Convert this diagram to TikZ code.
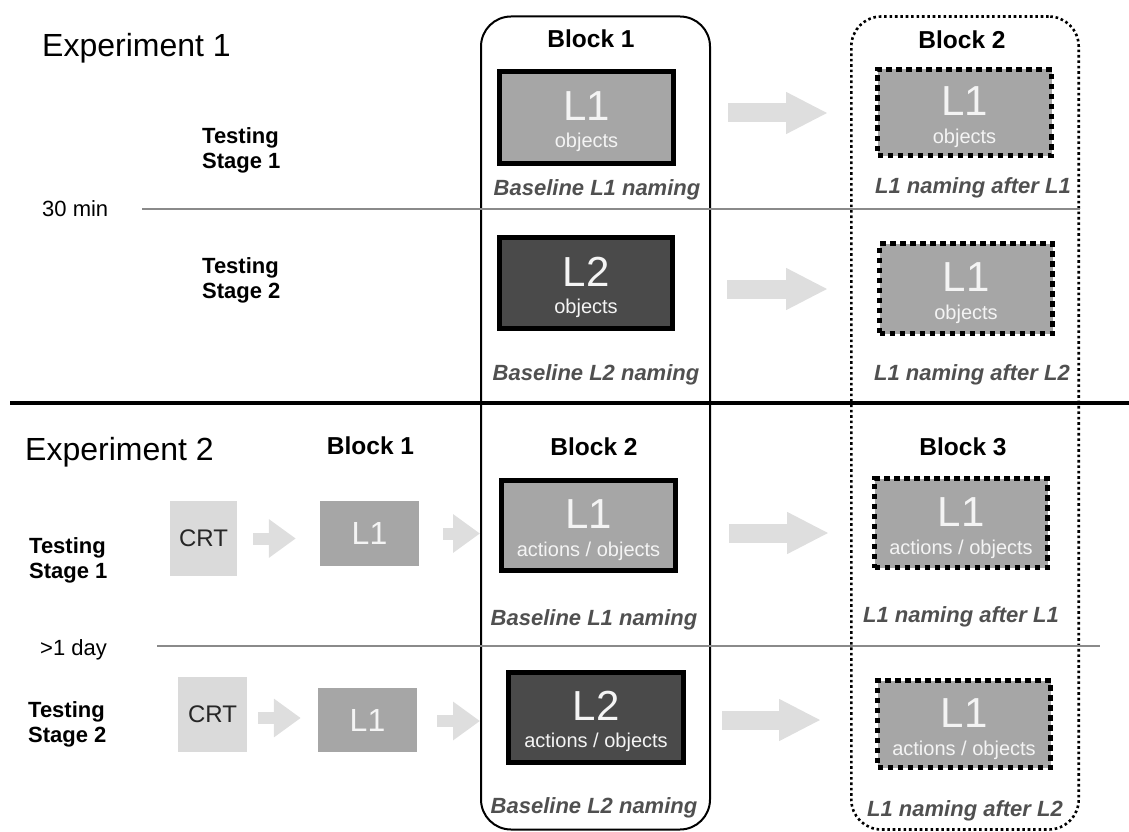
\documentclass[tikz,border=0pt]{standalone}
\usepackage{fontspec}
\setmainfont{Liberation Sans}
\usetikzlibrary{arrows.meta,calc}
\definecolor{boxlight}{HTML}{A6A6A6}
\definecolor{boxdark}{HTML}{4A4A4A}
\definecolor{crtfill}{HTML}{DADADA}
\definecolor{arrowgray}{HTML}{DEDEDE}
\definecolor{labelgray}{HTML}{505050}
\definecolor{sepgray}{HTML}{8A8A8A}
\definecolor{intext}{HTML}{F4F4F4}
\begin{document}
\begin{tikzpicture}[x=1pt,y=-1pt,
  txt/.style={inner sep=0pt, anchor=base west},
  ctxt/.style={inner sep=0pt, anchor=base},
  title/.style={txt, font=\fontsize{32}{38}\selectfont},
  stagelbl/.style={txt, font=\bfseries\fontsize{22}{26}\selectfont},
  timelbl/.style={txt, font=\fontsize{22}{26}\selectfont},
  blocklbl/.style={ctxt, font=\bfseries\fontsize{24.5}{28}\selectfont},
  namelbl/.style={ctxt, text=labelgray, font=\bfseries\itshape\fontsize{22}{26}\selectfont},
  bigtxt/.style={ctxt, text=intext, font=\fontsize{42}{48}\selectfont},
  subtxt/.style={ctxt, text=intext, font=\fontsize{20}{24}\selectfont},
  solidbox/.style={draw=black, line width=5pt, inner sep=0pt},
  dotbox/.style={draw=black, line width=5pt, dash pattern=on 5.5pt off 4.5pt, inner sep=0pt},
  plainbox/.style={inner sep=0pt},
  blockframe/.style={draw=black, line width=2pt, rounded corners=30pt, inner sep=0pt},
  blockdots/.style={draw=black, line width=2.6pt, dash pattern=on 2.6pt off 2.8pt, rounded corners=30pt, inner sep=0pt},
  bigarrow/.style={draw=arrowgray, line width=19pt, -{Triangle[length=42pt, width=39pt]}},
  smallarrow/.style={draw=arrowgray, line width=12pt, -{Triangle[length=27pt, width=37pt]}}
]
\useasboundingbox (0,0) rectangle (1129,832);

% block frames
\node[blockframe, minimum width=229pt, minimum height=813pt] (Blk1) at (595.5,423) {};
\node[blockdots, minimum width=227.4pt, minimum height=813pt] (Blk2) at (965,423) {};

% separators
\draw[sepgray, line width=1.5pt] (142,209) -- (1080,209);
\draw[sepgray, line width=1.5pt] (157,646) -- (1100,646);
\draw[black, line width=4pt] (10,403) -- (1129,403);

% ---------------- Experiment 1
\node[title] (exp1) at (42,57) {Experiment 1};
\node[stagelbl] (e1s1a) at (202,143) {Testing};
\node[stagelbl] (e1s1b) at (202,168) {Stage 1};
\node[timelbl] (t30) at (42,216) {30 min};
\node[stagelbl] (e1s2a) at (202,273) {Testing};
\node[stagelbl] (e1s2b) at (202,298) {Stage 2};
\node[blocklbl] (e1b1) at (591,48) {Block 1};
\node[blocklbl] (e1b2) at (962,49) {Block 2};

\node[solidbox, fill=boxlight, minimum width=174pt, minimum height=92pt] (A1) at (586.5,117.5) {};
\node[bigtxt] (A1t) at ($(A1.center)+(0,3)$) {L1};
\node[subtxt] (A1s) at ($(A1.center)+(0,30)$) {objects};
\node[dotbox, fill=boxlight, minimum width=174pt, minimum height=86pt] (B1) at (964.5,112.5) {};
\node[bigtxt] (B1t) at ($(B1.center)+(0,3)$) {L1};
\node[subtxt] (B1s) at ($(B1.center)+(0,31)$) {objects};
\node[namelbl] (A1n) at (597,195) {Baseline L1 naming};
\node[namelbl] (B1n) at (973,193) {L1 naming after L1};

\node[solidbox, fill=boxdark, minimum width=173pt, minimum height=91pt] (A2) at (586,283) {};
\node[bigtxt] (A2t) at ($(A2.center)+(0,3)$) {L2};
\node[subtxt] (A2s) at ($(A2.center)+(0,30)$) {objects};
\node[dotbox, fill=boxlight, minimum width=173pt, minimum height=90pt] (B2) at (966,288.5) {};
\node[bigtxt] (B2t) at ($(B2.center)+(0,3)$) {L1};
\node[subtxt] (B2s) at ($(B2.center)+(0,31)$) {objects};
\node[namelbl] (A2n) at (596,380) {Baseline L2 naming};
\node[namelbl] (B2n) at (972,380) {L1 naming after L2};

\draw[bigarrow, shorten <=52pt, shorten >=47pt] ($(A1.east)+(0,-4.5)$) -- ($(A1.east -| B1.west)+(0,-4.5)$);
\draw[bigarrow, shorten <=52pt, shorten >=49pt] ($(A2.east)+(0,6)$) -- ($(A2.east -| B2.west)+(0,6)$);

% ---------------- Experiment 2
\node[title] (exp2) at (25,460) {Experiment 2};
\node[blocklbl] (e2b1) at (370.5,454) {Block 1};
\node[blocklbl] (e2b2) at (594,455) {Block 2};
\node[blocklbl] (e2b3) at (963,455) {Block 3};
\node[stagelbl] (e2s1a) at (29,553) {Testing};
\node[stagelbl] (e2s1b) at (29,578) {Stage 1};
\node[timelbl] (t1d) at (40,655) {>1 day};
\node[stagelbl] (e2s2a) at (28,717) {Testing};
\node[stagelbl] (e2s2b) at (28,742) {Stage 2};

\node[plainbox, fill=crtfill, minimum width=67pt, minimum height=75pt, text=black!85, font=\fontsize{24}{28}\selectfont] (C1) at (203.5,538.5) {CRT};
\node[plainbox, fill=boxlight, minimum width=99pt, minimum height=65pt, text=intext, font=\fontsize{32}{36}\selectfont] (D1) at (369.5,533.5) {L1};
\node[solidbox, fill=boxlight, minimum width=174pt, minimum height=90pt] (E1) at (588.5,525.5) {};
\node[bigtxt] (E1t) at ($(E1.center)+(0,3)$) {L1};
\node[subtxt] (E1s) at ($(E1.center)+(0,31)$) {actions / objects};
\node[dotbox, fill=boxlight, minimum width=173pt, minimum height=89pt] (F1) at (961,523) {};
\node[bigtxt] (F1t) at ($(F1.center)+(0,3)$) {L1};
\node[subtxt] (F1s) at ($(F1.center)+(0,31)$) {actions / objects};
\node[namelbl] (E1n) at (594,625) {Baseline L1 naming};
\node[namelbl] (F1n) at (961,622) {L1 naming after L1};

\node[plainbox, fill=crtfill, minimum width=69pt, minimum height=75pt, text=black!85, font=\fontsize{24}{28}\selectfont] (C2) at (212.5,714.5) {CRT};
\node[plainbox, fill=boxlight, minimum width=99pt, minimum height=64pt, text=intext, font=\fontsize{32}{36}\selectfont] (D2) at (367.5,720) {L1};
\node[solidbox, fill=boxdark, minimum width=175pt, minimum height=90pt] (E2) at (596,717.5) {};
\node[bigtxt] (E2t) at ($(E2.center)+(0,3)$) {L2};
\node[subtxt] (E2s) at ($(E2.center)+(0,30)$) {actions / objects};
\node[dotbox, fill=boxlight, minimum width=173pt, minimum height=87pt] (F2) at (964,724) {};
\node[bigtxt] (F2t) at ($(F2.center)+(0,3)$) {L1};
\node[subtxt] (F2s) at ($(F2.center)+(0,31)$) {actions / objects};
\node[namelbl] (E2n) at (594,813) {Baseline L2 naming};
\node[namelbl] (F2n) at (965,816) {L1 naming after L2};

\draw[smallarrow, shorten <=16pt, shorten >=24pt] (C1.east) -- (C1.east -| D1.west);
\draw[smallarrow, shorten <=24pt, shorten >=19pt] (D1.east) -- (D1.east -| E1.west);
\draw[bigarrow, shorten <=51pt, shorten >=43pt] ($(E1.east)+(0,7.5)$) -- ($(E1.east -| F1.west)+(0,7.5)$);
\draw[smallarrow, shorten <=11pt, shorten >=17pt] ($(C2.east)+(0,3.5)$) -- ($(C2.east -| D2.west)+(0,3.5)$);
\draw[smallarrow, shorten <=20pt, shorten >=26pt] ($(D2.east)+(0,1)$) -- ($(D2.east -| E2.west)+(0,1)$);
\draw[bigarrow, shorten <=36pt, shorten >=54pt] ($(E2.east)+(0,2.5)$) -- ($(E2.east -| F2.west)+(0,2.5)$);
\end{tikzpicture}
\end{document}
